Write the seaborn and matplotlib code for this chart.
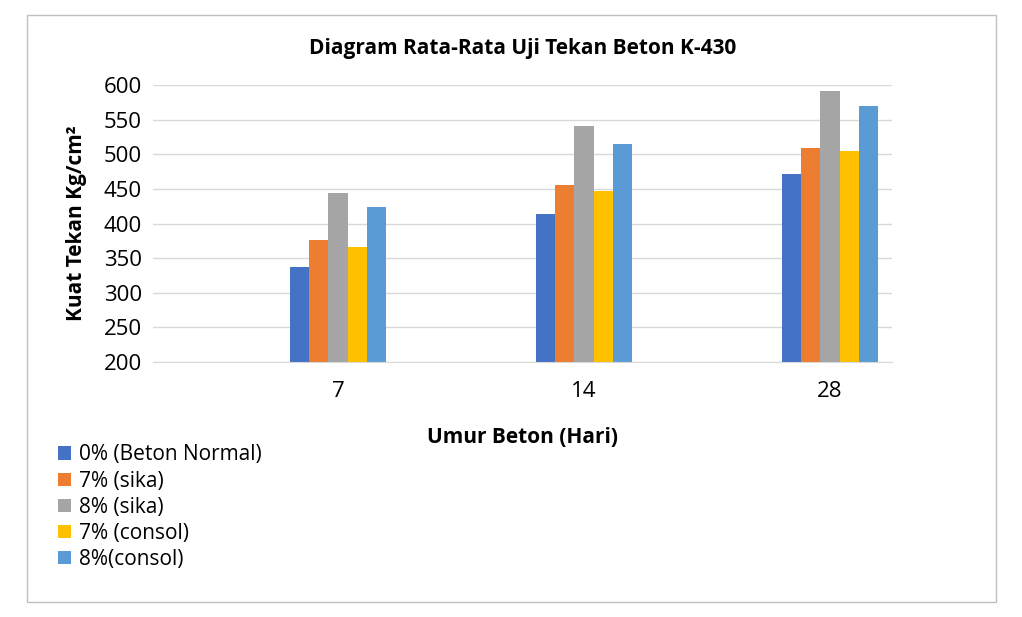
import pandas as pd
import matplotlib
matplotlib.use('Agg')
import matplotlib.pyplot as plt
import seaborn as sns
from matplotlib.patches import Rectangle

umur = ['7', '14', '28']
series = ['0% (Beton Normal)', '7% (sika)', '8% (sika)', '7% (consol)', '8%(consol)']
normal = [337, 414, 471]
sika7 = [376, 456, 509]
sika8 = [444, 541, 591]
consol7 = [366, 447, 504]
consol8 = [424, 515, 570]
colors = ['#4472C4', '#ED7D31', '#A5A5A5', '#FFC000', '#5B9BD5']

rows = []
for name, vals in zip(series, [normal, sika7, sika8, consol7, consol8]):
    for u, v in zip(umur, vals):
        rows.append({'Umur': u, 'Seri': name, 'Nilai': v})
df = pd.DataFrame(rows)

plt.rcParams['font.family'] = 'Open Sans'
fig = plt.figure(figsize=(10.22, 6.17), dpi=100)
fig.patches.append(Rectangle((27/1022, 15/617), 969/1022, 587/617, transform=fig.transFigure,
                             fill=False, edgecolor='#bfbfbf', linewidth=1))
ax = fig.add_axes([153/1022, 1 - 362/617, (892-153)/1022, (362-85)/617])

sns.barplot(data=df, x='Umur', y='Nilai', hue='Seri', order=umur, hue_order=series,
            palette=colors, width=0.39, ax=ax, saturation=1, legend=True)

ax.set_xlim(-0.752, 2.252)
ax.set_ylim(200, 600)
ax.set_yticks(range(200, 601, 50))
ax.grid(axis='y', color='#d9d9d9', linewidth=1)
ax.set_axisbelow(True)
for s in ['top', 'right', 'left']:
    ax.spines[s].set_visible(False)
ax.spines['bottom'].set_color('#d9d9d9')
ax.tick_params(length=0, labelsize=16, pad=8)
ax.tick_params(axis='x', pad=14)
ax.set_xlabel('Umur Beton (Hari)', fontsize=15, fontweight='bold', labelpad=18)
ax.set_ylabel('Kuat Tekan Kg/cm²', fontsize=15, fontweight='bold', labelpad=12)
ax.set_title('Diagram Rata-Rata Uji Tekan Beton K-430', fontsize=15, fontweight='bold', pad=22)

ax.legend(loc='upper left', bbox_to_anchor=(50/1022, 1 - 436/617), bbox_transform=fig.transFigure,
          frameon=False, fontsize=15, handlelength=0.6, handleheight=0.6,
          handletextpad=0.4, labelspacing=0.25, borderaxespad=0)

plt.savefig('out.png', dpi=100)
